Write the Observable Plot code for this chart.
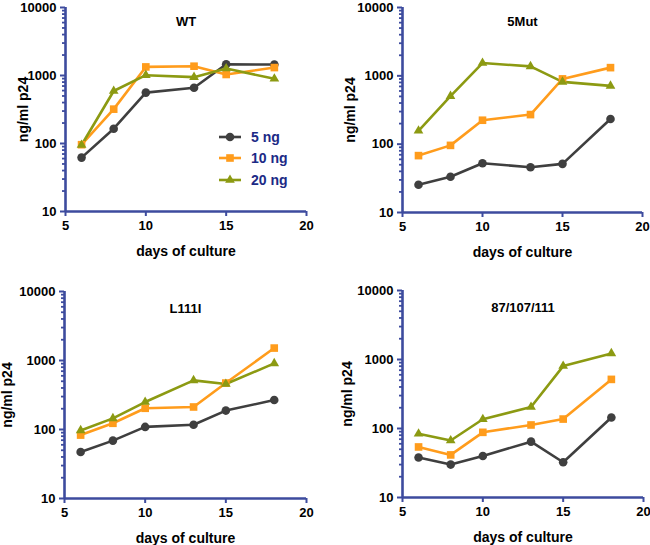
<!DOCTYPE html>
<html><head><meta charset="utf-8">
<script src="https://cdn.jsdelivr.net/npm/d3@7"></script>
<script src="https://cdn.jsdelivr.net/npm/@observablehq/plot@0.6"></script>
<style>
body{margin:0;background:#fff;font-family:"Liberation Sans",Arial,Helvetica,sans-serif;}
#wrap{position:relative;width:650px;height:545px;overflow:hidden;background:#fff;}
.panel{position:absolute;}
.panel svg{overflow:visible;font-family:"Liberation Sans",Arial,sans-serif;font-weight:bold;}
#legend{position:absolute;left:218px;top:126px;font-family:"Liberation Sans",Arial,sans-serif;font-weight:bold;font-size:14px;color:#1c2a86;}
#legend .row{display:flex;align-items:center;height:21.5px;}
#legend svg{margin-right:9px;}
</style></head><body><div id="wrap"></div>
<script>
// ---- data ----
const days = [6, 8, 10, 13, 15, 18];
const series = ["5 ng", "10 ng", "20 ng"];
const colors = ["#3f3f3f", "#ff9c1c", "#8c9a12"];
const symbols = ["circle", "square", "triangle"];
const symbolRadii = [4.3, 4.3, 3.6];

const wt5  = [62, 165, 560, 661, 1460, 1450];
const wt10 = [96, 320, 1337, 1370, 1035, 1308];
const wt20 = [95, 591, 1011, 946, 1265, 894];

const mut5  = [25.5, 33.3, 52.6, 46, 51.5, 234];
const mut10 = [68, 96, 224, 271, 902, 1318];
const mut20 = [157, 505, 1538, 1377, 815, 713];

const l5  = [47.3, 69, 109, 117, 188, 267];
const l10 = [83, 123, 203, 212, 471, 1514];
const l20 = [97, 145, 250, 515, 456, 907];

const t5  = [37.9, 30, 40, 64.5, 32.4, 144];
const t10 = [54, 41.4, 88, 112.5, 137, 515];
const t20 = [84, 67, 136, 205, 803, 1225];

const xTicks = [5, 10, 15, 20];
const yMajorTicks = [10, 100, 1000, 10000];
const yMinorTicks = [20,30,40,50,60,70,80,90,200,300,400,500,600,700,800,900,2000,3000,4000,5000,6000,7000,8000,9000];
const titles = ["WT", "5Mut", "L111I", "87/107/111"];
const xLabel = "days of culture";
const yLabel = "ng/ml p24";

const axisColor = "#3d4b9e";

function rows(a, b, c) {
  const out = [];
  [a, b, c].forEach((vals, i) => vals.forEach((v, j) => out.push({day: days[j], value: v, series: series[i], r: symbolRadii[i]})));
  return out;
}

const panels = [
  {title: titles[0], data: rows(wt5, wt10, wt20), left: 0, top: 0, height: 270, mt: 7, mb: 59, ml: 65, mr: 19, yOff: 47, xOff: 44, tdy: 9},
  {title: titles[1], data: rows(mut5, mut10, mut20), left: 325, top: 0, height: 270, mt: 7, mb: 58, ml: 77, mr: 8, yOff: 57, xOff: 44, tdy: 9},
  {title: titles[2], data: rows(l5, l10, l20), left: 0, top: 270, height: 275, mt: 21, mb: 47, ml: 64, mr: 19, yOff: 62, xOff: 44, tdy: 12},
  {title: titles[3], data: rows(t5, t10, t20), left: 325, top: 270, height: 275, mt: 20, mb: 48, ml: 77, mr: 7, yOff: 60, xOff: 44, tdy: 12}
];

const wrap = document.getElementById("wrap");

panels.forEach(p => {
  const chart = Plot.plot({
    width: 325,
    height: p.height,
    marginTop: p.mt, marginBottom: p.mb, marginLeft: p.ml, marginRight: p.mr,
    style: {fontFamily: "Liberation Sans, Arial, sans-serif", fontWeight: "bold", fontSize: "13px", background: "white", color: "black"},
    x: {domain: [5, 20]},
    y: {type: "log", domain: [10, 10000]},
    r: {type: "identity"},
    color: {domain: series, range: colors},
    symbol: {domain: series, range: symbols},
    marks: [
      Plot.axisY({ticks: yMinorTicks, tickSize: 3, text: null, stroke: axisColor, strokeWidth: 1.8, label: null}),
      Plot.axisY({ticks: yMajorTicks, tickSize: 5, tickFormat: d => String(d), stroke: axisColor, strokeWidth: 2, fill: "black",
        fontSize: 13, label: yLabel, labelAnchor: "center", labelArrow: "none", labelOffset: p.yOff}),
      Plot.axisX({ticks: xTicks, tickSize: 5, tickFormat: d => String(d), stroke: axisColor, strokeWidth: 2, fill: "black",
        fontSize: 13, label: xLabel, labelAnchor: "center", labelArrow: "none", labelOffset: p.xOff}),
      Plot.ruleX([5], {stroke: axisColor, strokeWidth: 2.6}),
      Plot.ruleY([10], {stroke: axisColor, strokeWidth: 2.6}),
      Plot.line(p.data, {x: "day", y: "value", z: "series", stroke: "series", strokeWidth: 2.6}),
      Plot.dot(p.data, {x: "day", y: "value", symbol: "series", fill: "series", r: "r", stroke: null}),
      Plot.text([p.title], {frameAnchor: "top", dy: p.tdy, fontSize: 13, fontWeight: "bold", fill: "black"})
    ]
  });
  const div = document.createElement("div");
  div.className = "panel";
  div.style.left = p.left + "px";
  div.style.top = p.top + "px";
  div.appendChild(chart);
  wrap.appendChild(div);
});

// label font sizes
wrap.querySelectorAll("[aria-label='x-axis label'], [aria-label='y-axis label']").forEach(g => g.setAttribute("font-size", "14"));

// legend (in WT panel)
const legend = document.createElement("div");
legend.id = "legend";
series.forEach((s, i) => {
  const row = document.createElement("div");
  row.className = "row";
  const svg = d3.create("svg").attr("width", 24).attr("height", 12);
  svg.append("line").attr("x1", 1).attr("x2", 23).attr("y1", 6).attr("y2", 6).attr("stroke", colors[i]).attr("stroke-width", 2.6);
  const sym = [d3.symbolCircle, d3.symbolSquare, d3.symbolTriangle][i];
  svg.append("path").attr("transform", "translate(12,6)").attr("d", d3.symbol(sym, Math.PI * symbolRadii[i] * symbolRadii[i])()).attr("fill", colors[i]);
  row.appendChild(svg.node());
  const t = document.createElement("span");
  t.textContent = s;
  row.appendChild(t);
  legend.appendChild(row);
});
wrap.appendChild(legend);
</script>
</body></html>
